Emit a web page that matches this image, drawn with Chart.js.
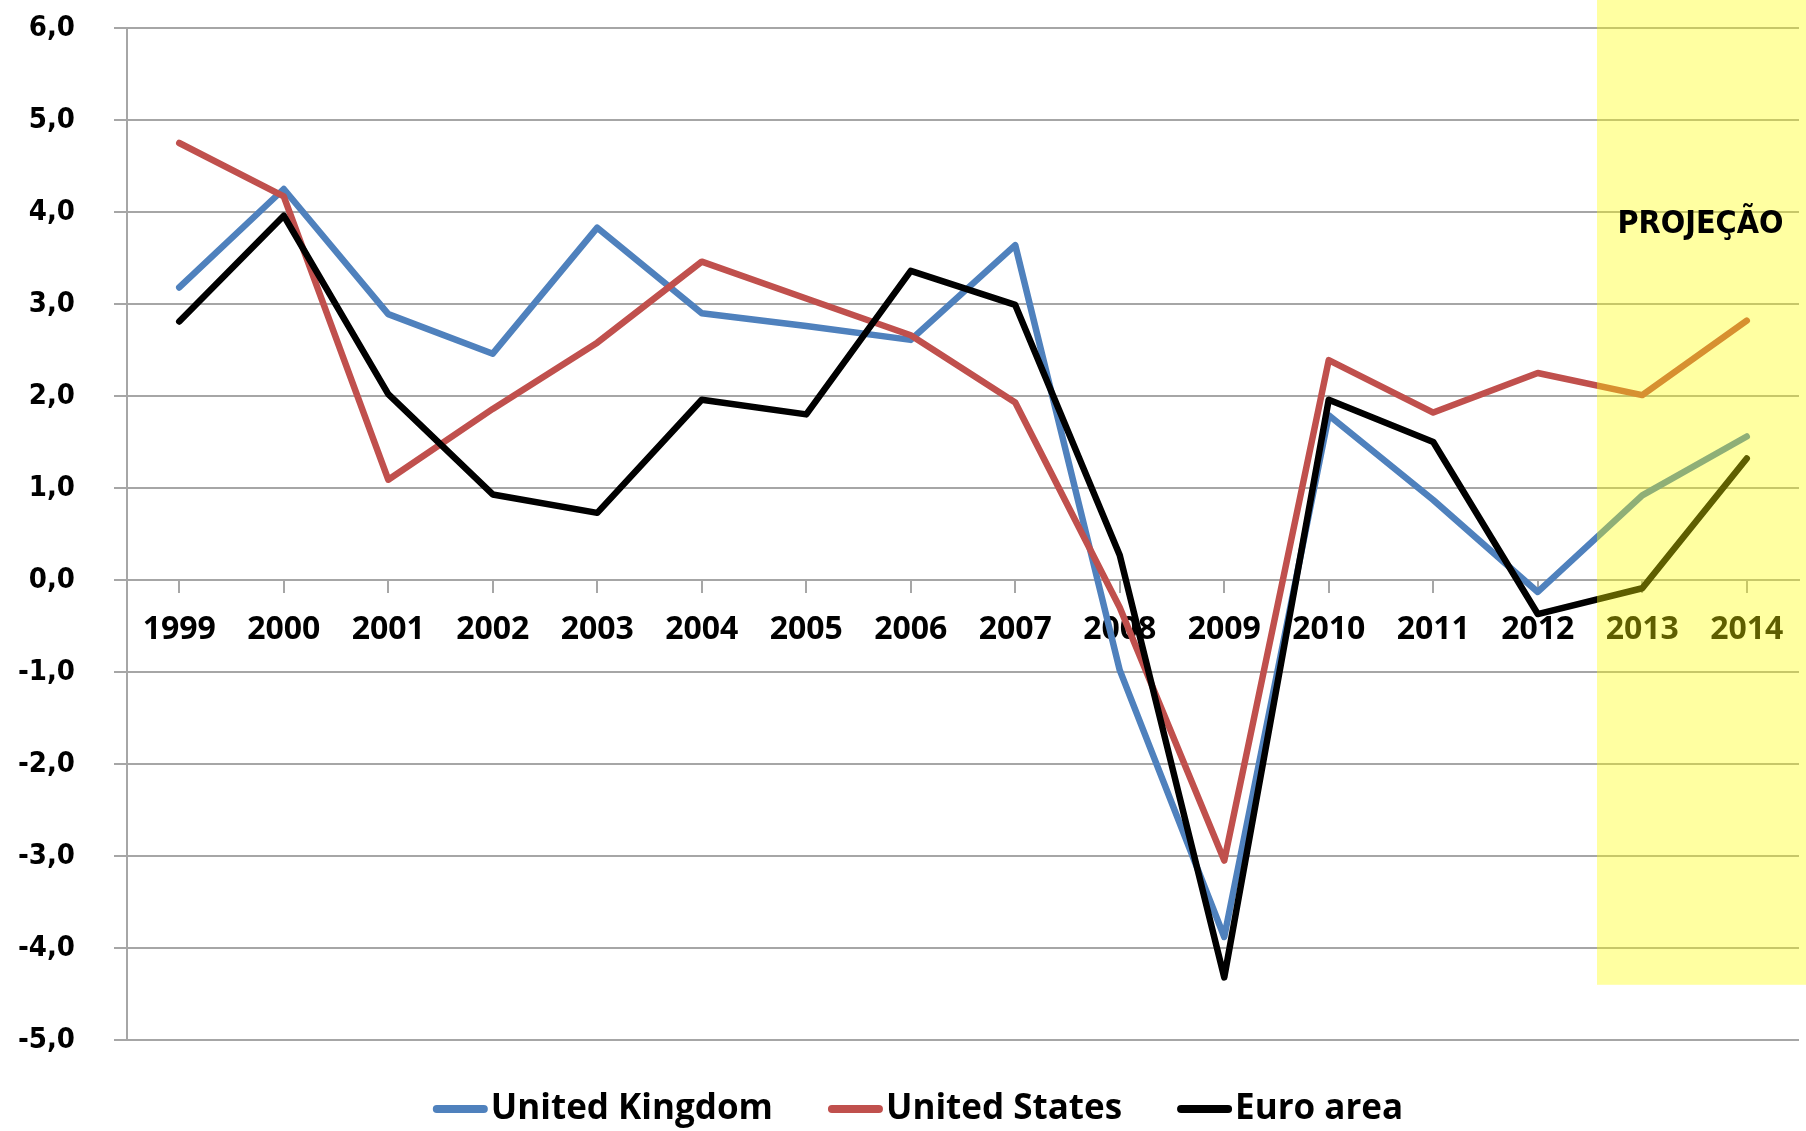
<!DOCTYPE html>
<html>
<head>
<meta charset="utf-8">
<title>GDP growth - UK, US, Euro area</title>
<script src="https://cdn.jsdelivr.net/npm/chart.js@4.4.1/dist/chart.umd.min.js"></script>
<style>
    html, body { margin: 0; padding: 0; background: #fff; }
</style>
</head>
<body>
<canvas id="growthChart" width="1806" height="1131"></canvas>
<script>
/* ------------------------------
   Data
   ------------------------------ */
const years = ['1999', '2000', '2001', '2002', '2003', '2004', '2005', '2006',
               '2007', '2008', '2009', '2010', '2011', '2012', '2013', '2014'];

const ukGrowth   = [3.18, 4.25, 2.89, 2.46, 3.83, 2.90, 2.76, 2.61,
                    3.64, -0.98, -3.88, 1.79, 0.87, -0.13, 0.92, 1.56];
const usGrowth   = [4.75, 4.17, 1.09, 1.86, 2.58, 3.46, 3.06, 2.66,
                    1.93, -0.30, -3.05, 2.39, 1.82, 2.25, 2.01, 2.82];
const euroGrowth = [2.81, 3.96, 2.02, 0.93, 0.73, 1.96, 1.80, 3.36,
                    2.99, 0.27, -4.32, 1.96, 1.50, -0.37, -0.09, 1.32];

const yMin = -5;
const yMax = 6;
const yStep = 1;

// projection band
const projectionStart = years.indexOf('2013');
const projectionBottom = -4.4;
const projectionLabel = 'PROJEÇÃO';
const projectionLabelAt = 3.86;

const GRID = '#a6a6a6';
const VERDANA_LIKE = '"DejaVu Sans Condensed", "DejaVu Sans"';
const CALIBRI_LIKE = '"Open Sans", "Noto Sans"';

// ------------------------------
// Plugins
// ------------------------------
const projectionBand = {
    id: 'projectionBand',
    afterDatasetsDraw(chart) {
        const { ctx, scales: { x, y } } = chart;
        const left = x.getPixelForValue(projectionStart - 0.5) + 7;
        const bottom = y.getPixelForValue(projectionBottom);
        ctx.save();
        ctx.fillStyle = 'rgba(255,255,0,0.37)';
        ctx.fillRect(left, 0, chart.width - left, bottom);

        const cx = (x.getPixelForValue(projectionStart) + x.getPixelForValue(projectionStart + 1)) / 2 + 6;
        ctx.fillStyle = '#000';
        ctx.font = 'bold 32px ' + VERDANA_LIKE;
        ctx.textAlign = 'center';
        ctx.textBaseline = 'middle';
        ctx.fillText(projectionLabel, cx, y.getPixelForValue(projectionLabelAt));
        ctx.restore();
    }
};

const bottomLegend = {
    id: 'bottomLegend',
    afterDraw(chart) {
        const ctx = chart.ctx;
        ctx.save();
        ctx.font = 'bold 35px ' + CALIBRI_LIKE;
        const items = chart.data.datasets.map(ds => ({
            text: ds.label,
            color: ds.borderColor,
            w: ctx.measureText(ds.label).width
        }));
        const sample = 55, gap = 3, spacing = 55;
        const total = items.reduce((s, it) => s + sample + gap + it.w, 0) + spacing * (items.length - 1);
        let x = chart.width / 2 + 15 - total / 2;
        const lineY = chart.chartArea.bottom + 69;

        items.forEach(it => {
            ctx.strokeStyle = it.color;
            ctx.lineWidth = 8;
            ctx.lineCap = 'round';
            ctx.beginPath();
            ctx.moveTo(x + 4, lineY);
            ctx.lineTo(x + sample - 4, lineY);
            ctx.stroke();

            ctx.fillStyle = '#000';
            ctx.textAlign = 'left';
            ctx.textBaseline = 'alphabetic';
            ctx.fillText(it.text, x + sample + gap, lineY + 10);
            x += sample + gap + it.w + spacing;
        });
        ctx.restore();
    }
};

// ------------------------------
// Chart
// ------------------------------
function lineSet(label, data, color, order) {
    return {
        label: label,
        data: data,
        borderColor: color,
        backgroundColor: color,
        borderWidth: 6.5,
        borderJoinStyle: 'round',
        borderCapStyle: 'round',
        pointRadius: 0,
        tension: 0,
        order: order
    };
}

const ctx = document.getElementById('growthChart').getContext('2d');
const growthChart = new Chart(ctx, {
    type: 'line',
    data: {
        labels: years,
        datasets: [
            lineSet('United Kingdom', ukGrowth, '#4f81bd', 3),
            lineSet('United States', usGrowth, '#c0504d', 2),
            lineSet('Euro area', euroGrowth, '#000000', 1)
        ]
    },
    options: {
        responsive: false,
        animation: false,
        layout: { padding: { top: 28, left: 15, right: 7, bottom: 91 } },
        plugins: {
            legend: { display: false },
            tooltip: { enabled: false }
        },
        scales: {
            x: {
                position: { y: 0 },
                offset: true,
                grid: { drawOnChartArea: false, color: GRID, lineWidth: 2, tickLength: 12 },
                border: { color: GRID, width: 2 },
                ticks: {
                    color: '#000',
                    font: { family: CALIBRI_LIKE, size: 32, weight: 'bold' },
                    padding: 19,
                    autoSkip: false,
                    maxRotation: 0
                }
            },
            y: {
                min: yMin,
                max: yMax,
                grid: { color: GRID, lineWidth: 2, tickLength: 13 },
                border: { color: GRID, width: 2 },
                ticks: {
                    stepSize: yStep,
                    color: '#000',
                    font: { family: VERDANA_LIKE, size: 29, weight: 'bold' },
                    padding: 39,
                    callback: v => v.toFixed(1).replace('.', ',')
                },
                // fixed axis width, and no extra top/bottom space from the tick padding
                afterFit: scale => {
                    scale.width = 112;
                    scale.paddingTop = 0;
                    scale.paddingBottom = 0;
                }
            }
        }
    },
    plugins: [projectionBand, bottomLegend]
});
</script>
</body>
</html>
